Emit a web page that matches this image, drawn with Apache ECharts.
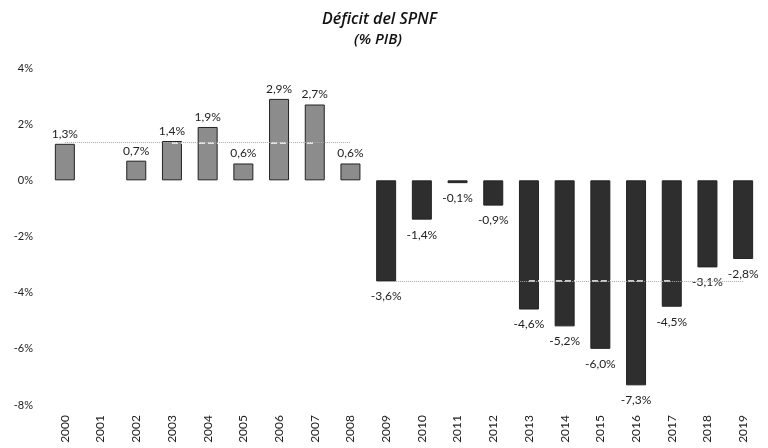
<!DOCTYPE html>
<html>
<head>
<meta charset="utf-8">
<script src="https://cdn.jsdelivr.net/npm/echarts@6/dist/echarts.min.js"></script>
<style>
  html, body { margin: 0; padding: 0; background: #fff; }
  #main { width: 768px; height: 448px; }
</style>
</head>
<body>
<div id="main"></div>
<script>
var years = ['2000','2001','2002','2003','2004','2005','2006','2007','2008','2009',
             '2010','2011','2012','2013','2014','2015','2016','2017','2018','2019'];
var deficit = [1.3, null, 0.7, 1.4, 1.9, 0.6, 2.9, 2.7, 0.6, -3.6,
               -1.4, -0.1, -0.9, -4.6, -5.2, -6.0, -7.3, -4.5, -3.1, -2.8];
// promedios por periodo (lineas punteadas)
var avgPre = 1.34;   // 2000-2008
var avgPost = -3.59; // 2009-2019

function pct(v) {
    return v.toFixed(1).replace('.', ',') + '%';
}

var myChart = echarts.init(document.getElementById('main'));

var barData = [];
for (var i = 0; i < deficit.length; i++) {
    var v = deficit[i];
    if (v === null) { barData.push(null); continue; }
    barData.push({
        value: v,
        itemStyle: {
            color: v >= 0 ? '#8c8c8c' : '#2e2e2e',
            borderColor: '#222',
            borderWidth: 1
        },
        label: {
            position: v >= 0 ? 'top' : 'bottom',
            distance: v >= 0 ? 4 : 9
        }
    });
}

myChart.setOption({
    animation: false,
    backgroundColor: '#fff',
    graphic: [
        { type: 'text', left: 322, top: 11,
          style: { text: 'Déficit del SPNF', font: 'italic 600 16px "Open Sans"', fill: '#111' } },
        { type: 'text', left: 354, top: 32,
          style: { text: '(% PIB)', font: 'italic 600 15px "Open Sans"', fill: '#111' } }
    ],
    grid: { left: 47, right: 7, top: 68, bottom: 43 },
    xAxis: {
        type: 'category',
        data: years,
        axisLine: { show: false },
        axisTick: { show: false },
        axisLabel: {
            rotate: 90,
            margin: 10,
            fontSize: 12,
            color: '#222',
            fontFamily: 'Lato'
        }
    },
    yAxis: {
        type: 'value',
        min: -8,
        max: 4,
        interval: 2,
        splitLine: { show: false },
        axisLine: { show: false },
        axisLabel: {
            margin: 14,
            fontSize: 11,
            color: '#222',
            fontFamily: 'Lato',
            align: 'right',
            formatter: function (v) { return v + '%'; }
        }
    },
    series: [{
        name: 'Déficit',
        type: 'bar',
        barWidth: 20,
        data: barData,
        z: 2,
        label: {
            show: true,
            fontSize: 12,
            color: '#222',
            fontFamily: 'Lato',
            formatter: function (p) { return pct(p.value); }
        },
        markLine: {
            silent: true,
            symbol: 'none',
            label: { show: false },
            lineStyle: { color: '#fff', type: [6, 3], width: 1.5 },
            data: [
                [{ coord: ['2003', avgPre] }, { coord: ['2007', avgPre] }],
                [{ coord: ['2013', avgPost] }, { coord: ['2017', avgPost] }]
            ]
        }
    }, {
        name: 'Promedio',
        type: 'line',
        data: [],
        z: 1,
        markLine: {
            silent: true,
            symbol: 'none',
            label: { show: false },
            lineStyle: { color: '#aaa', type: 'dotted', width: 1 },
            data: [
                [{ coord: ['2000', avgPre] }, { coord: ['2008', avgPre] }],
                [{ coord: ['2009', avgPost] }, { coord: ['2019', avgPost] }]
            ]
        }
    }]
});
</script>
</body>
</html>
